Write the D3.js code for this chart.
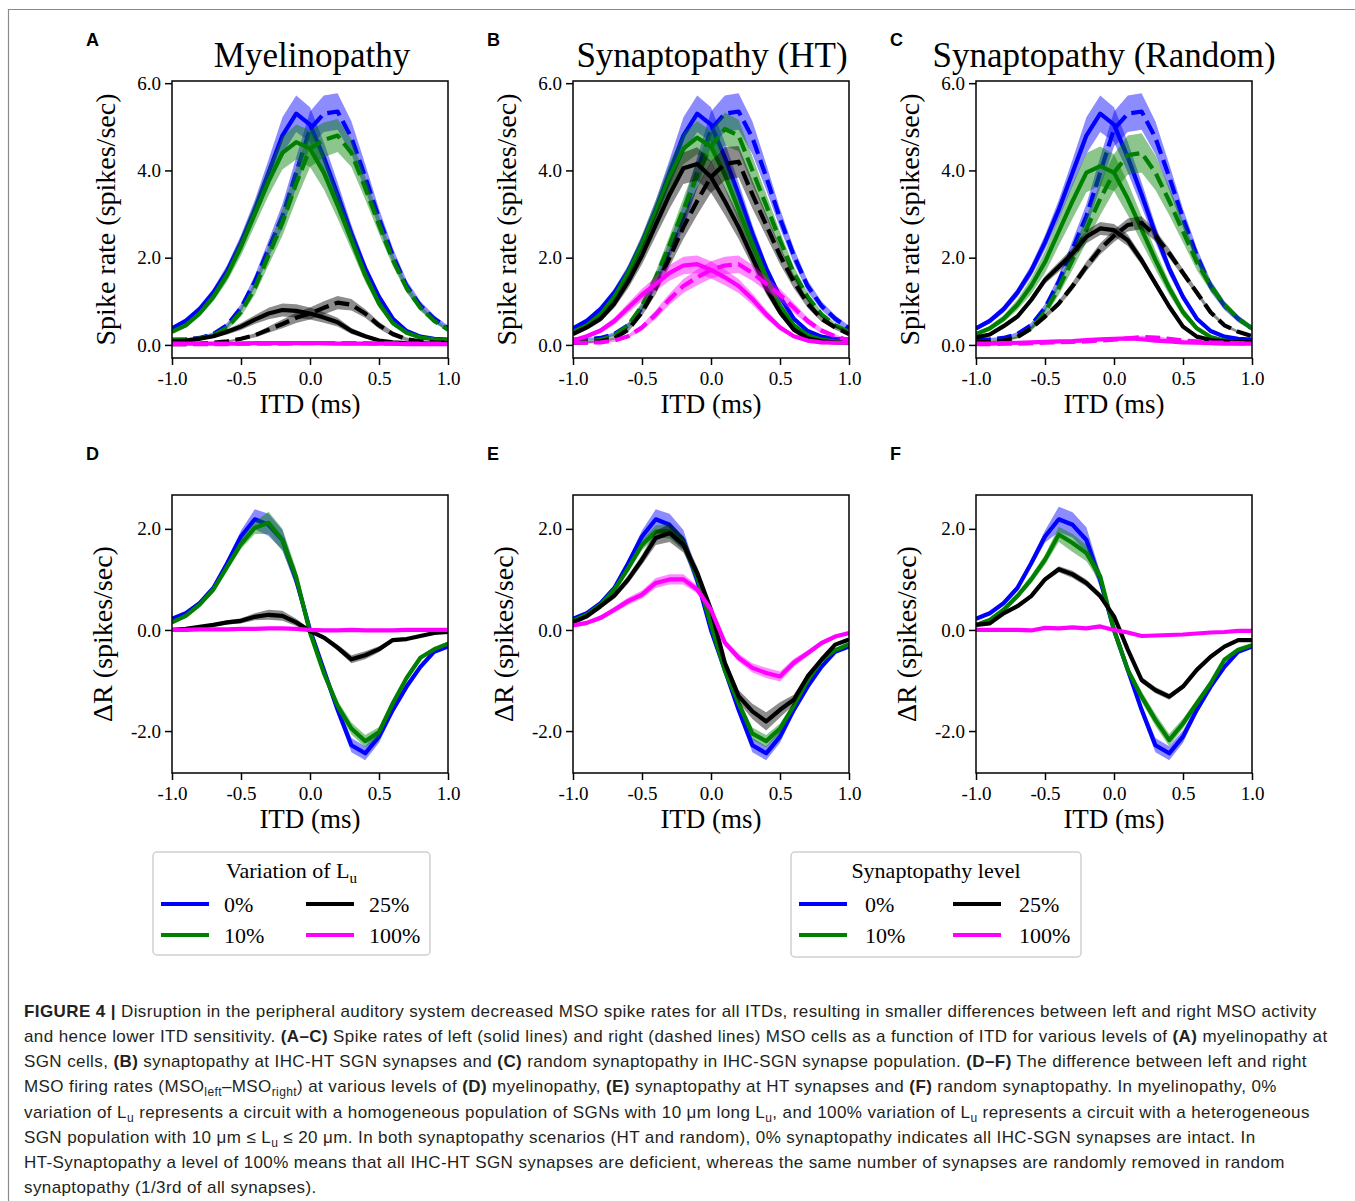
<!DOCTYPE html>
<html lang="en">
<meta charset="UTF-8">
<title>Figure 4 - MSO spike rates vs ITD</title>
<script src="https://d3js.org/d3.v7.min.js"></script>
<style>
body { margin: 0; background: #fff; }
.serif { font-family: "Liberation Serif", "Times New Roman", serif; }
.sans { font-family: "Liberation Sans", Arial, sans-serif; }
</style>
<body>
<svg id="fig" width="1355" height="1201"></svg>
<script>
// ITD values (ms)
const itd = [-1.0,-0.9,-0.8,-0.7,-0.6,-0.5,-0.4,-0.3,-0.2,-0.1,0.0,0.1,0.2,0.3,0.4,0.5,0.6,0.7,0.8,0.9,1.0];
const levels = ["0%", "10%", "25%", "100%"];
const xTicks = [-1.0, -0.5, 0.0, 0.5, 1.0];
const rateTicks = [0.0, 2.0, 4.0, 6.0];
const diffTicks = [-2.0, 0.0, 2.0];

// ---- A: myelinopathy, spike rates (order: 0%, 10%, 25%, 100%) ----
const myeLeft = [
  [0.38,0.55,0.82,1.2,1.7,2.35,3.1,3.95,4.8,5.3,5.05,4.3,3.45,2.55,1.75,1.1,0.6,0.32,0.19,0.14,0.12],
  [0.3,0.45,0.72,1.1,1.6,2.25,3.0,3.75,4.4,4.65,4.5,3.95,3.2,2.4,1.6,0.95,0.5,0.28,0.17,0.13,0.11],
  [0.08,0.1,0.14,0.2,0.3,0.42,0.58,0.72,0.8,0.78,0.72,0.63,0.52,0.32,0.2,0.1,0.06,0.04,0.03,0.03,0.03],
  [0.03,0.03,0.03,0.03,0.03,0.03,0.04,0.04,0.04,0.04,0.04,0.04,0.03,0.03,0.03,0.03,0.03,0.02,0.02,0.02,0.02]
];
const myeLeftSd = [
  [0.05,0.06,0.08,0.1,0.13,0.17,0.22,0.3,0.42,0.42,0.4,0.35,0.28,0.2,0.14,0.09,0.06,0.04,0.03,0.03,0.03],
  [0.04,0.05,0.07,0.1,0.14,0.2,0.26,0.32,0.38,0.4,0.42,0.38,0.3,0.22,0.15,0.1,0.06,0.04,0.03,0.03,0.03],
  [0.02,0.02,0.03,0.04,0.06,0.08,0.1,0.13,0.15,0.15,0.14,0.12,0.1,0.07,0.05,0.03,0.02,0.02,0.01,0.01,0.01],
  [0.02,0.02,0.02,0.02,0.02,0.02,0.02,0.02,0.02,0.02,0.02,0.02,0.02,0.02,0.02,0.02,0.02,0.02,0.02,0.02,0.02]
];
const myeRight = [
  [0.12,0.13,0.16,0.25,0.45,0.85,1.45,2.2,2.95,3.95,4.95,5.3,5.35,4.75,3.85,2.9,2.05,1.35,0.9,0.6,0.38],
  [0.11,0.12,0.15,0.22,0.4,0.75,1.3,2.05,2.8,3.7,4.5,4.7,4.8,4.4,3.6,2.75,1.95,1.3,0.85,0.55,0.35],
  [0.02,0.02,0.03,0.05,0.08,0.14,0.22,0.35,0.48,0.62,0.72,0.85,0.97,0.92,0.72,0.45,0.25,0.13,0.08,0.06,0.05],
  [0.02,0.02,0.02,0.02,0.02,0.03,0.03,0.03,0.03,0.04,0.04,0.04,0.04,0.04,0.04,0.03,0.03,0.03,0.03,0.03,0.03]
];
const myeRightSd = [
  [0.03,0.03,0.03,0.04,0.06,0.09,0.14,0.2,0.28,0.35,0.4,0.42,0.42,0.38,0.3,0.22,0.17,0.13,0.1,0.08,0.06],
  [0.03,0.03,0.03,0.04,0.06,0.1,0.15,0.22,0.3,0.38,0.42,0.4,0.38,0.32,0.26,0.2,0.14,0.1,0.07,0.05,0.04],
  [0.01,0.01,0.01,0.02,0.02,0.03,0.05,0.07,0.1,0.12,0.14,0.15,0.15,0.13,0.1,0.08,0.06,0.04,0.03,0.02,0.02],
  [0.02,0.02,0.02,0.02,0.02,0.02,0.02,0.02,0.02,0.02,0.02,0.02,0.02,0.02,0.02,0.02,0.02,0.02,0.02,0.02,0.02]
];

// ---- B: synaptopathy (HT), spike rates ----
const htLeft = [
  [0.38,0.55,0.82,1.2,1.7,2.35,3.1,3.95,4.8,5.3,5.05,4.3,3.45,2.55,1.75,1.1,0.6,0.32,0.19,0.14,0.12],
  [0.3,0.45,0.7,1.1,1.65,2.3,3.05,3.85,4.5,4.75,4.55,3.9,3.1,2.3,1.55,0.9,0.45,0.22,0.12,0.08,0.07],
  [0.25,0.4,0.6,0.95,1.45,2.05,2.75,3.45,4.05,4.15,3.85,3.3,2.7,2.0,1.3,0.75,0.35,0.15,0.08,0.06,0.05],
  [0.1,0.2,0.33,0.55,0.85,1.15,1.4,1.65,1.82,1.85,1.72,1.55,1.35,1.05,0.7,0.4,0.2,0.1,0.06,0.05,0.05]
];
const htLeftSd = [
  [0.05,0.06,0.08,0.1,0.13,0.17,0.22,0.3,0.42,0.42,0.4,0.35,0.28,0.2,0.14,0.09,0.06,0.04,0.03,0.03,0.03],
  [0.04,0.05,0.07,0.1,0.15,0.2,0.26,0.32,0.36,0.38,0.36,0.32,0.27,0.2,0.14,0.09,0.05,0.03,0.02,0.02,0.02],
  [0.04,0.05,0.07,0.1,0.15,0.2,0.26,0.32,0.36,0.38,0.36,0.32,0.27,0.2,0.14,0.09,0.05,0.03,0.02,0.02,0.02],
  [0.03,0.04,0.06,0.08,0.11,0.14,0.16,0.18,0.2,0.2,0.2,0.18,0.16,0.13,0.1,0.07,0.04,0.03,0.02,0.02,0.02]
];
const htRight = [
  [0.12,0.13,0.16,0.25,0.45,0.85,1.45,2.2,2.95,3.95,4.95,5.3,5.35,4.75,3.85,2.9,2.05,1.35,0.9,0.6,0.38],
  [0.07,0.08,0.12,0.22,0.45,0.9,1.55,2.3,3.1,3.9,4.55,4.95,4.8,4.0,3.2,2.4,1.65,1.1,0.7,0.45,0.3],
  [0.05,0.06,0.08,0.15,0.35,0.75,1.3,2.0,2.7,3.3,3.85,4.15,4.2,3.45,2.75,2.05,1.45,0.95,0.6,0.4,0.25],
  [0.05,0.05,0.06,0.1,0.2,0.4,0.7,1.05,1.35,1.55,1.72,1.82,1.85,1.65,1.4,1.15,0.85,0.55,0.33,0.2,0.1]
];
const htRightSd = [
  [0.03,0.03,0.03,0.04,0.06,0.09,0.14,0.2,0.28,0.35,0.4,0.42,0.42,0.38,0.3,0.22,0.17,0.13,0.1,0.08,0.06],
  [0.02,0.02,0.02,0.03,0.05,0.09,0.14,0.2,0.27,0.32,0.36,0.38,0.36,0.32,0.26,0.2,0.15,0.1,0.07,0.05,0.04],
  [0.02,0.02,0.02,0.03,0.05,0.09,0.14,0.2,0.27,0.32,0.36,0.38,0.36,0.32,0.26,0.2,0.15,0.1,0.07,0.05,0.04],
  [0.02,0.02,0.02,0.03,0.04,0.07,0.1,0.13,0.16,0.18,0.2,0.2,0.2,0.18,0.16,0.14,0.11,0.08,0.06,0.04,0.03]
];

// ---- C: synaptopathy (random), spike rates ----
const rndLeft = [
  [0.38,0.55,0.82,1.2,1.7,2.35,3.1,3.95,4.8,5.3,5.05,4.3,3.45,2.55,1.75,1.1,0.6,0.32,0.19,0.14,0.12],
  [0.25,0.38,0.6,0.92,1.35,1.9,2.6,3.3,3.95,4.1,3.95,3.35,2.65,1.95,1.3,0.75,0.38,0.18,0.1,0.07,0.06],
  [0.17,0.24,0.43,0.65,1.03,1.49,1.79,2.1,2.48,2.67,2.63,2.4,1.94,1.41,0.88,0.42,0.19,0.11,0.08,0.07,0.06],
  [0.03,0.03,0.04,0.05,0.06,0.07,0.08,0.09,0.11,0.13,0.14,0.15,0.13,0.1,0.08,0.06,0.05,0.04,0.03,0.03,0.03]
];
const rndLeftSd = [
  [0.05,0.06,0.08,0.1,0.13,0.17,0.22,0.3,0.42,0.42,0.4,0.35,0.28,0.2,0.14,0.09,0.06,0.04,0.03,0.03,0.03],
  [0.04,0.06,0.08,0.12,0.18,0.25,0.32,0.4,0.45,0.45,0.42,0.38,0.3,0.22,0.15,0.1,0.06,0.04,0.03,0.03,0.03],
  [0.02,0.03,0.04,0.05,0.07,0.09,0.11,0.13,0.15,0.15,0.14,0.13,0.11,0.09,0.07,0.05,0.03,0.02,0.02,0.02,0.02],
  [0.02,0.02,0.02,0.02,0.02,0.02,0.02,0.03,0.03,0.03,0.03,0.03,0.03,0.03,0.02,0.02,0.02,0.02,0.02,0.02,0.02]
];
const rndRight = [
  [0.12,0.13,0.16,0.25,0.45,0.85,1.45,2.2,2.95,3.95,4.95,5.3,5.35,4.75,3.85,2.9,2.05,1.35,0.9,0.6,0.38],
  [0.06,0.07,0.1,0.18,0.38,0.75,1.3,1.95,2.65,3.35,3.95,4.35,4.4,3.95,3.3,2.6,1.9,1.35,0.92,0.6,0.38],
  [0.06,0.07,0.1,0.18,0.38,0.65,0.95,1.35,1.8,2.2,2.5,2.75,2.8,2.5,2.1,1.65,1.2,0.75,0.45,0.3,0.2],
  [0.02,0.02,0.03,0.03,0.04,0.05,0.06,0.07,0.08,0.1,0.12,0.15,0.18,0.17,0.14,0.1,0.08,0.06,0.05,0.04,0.03]
];
const rndRightSd = [
  [0.03,0.03,0.03,0.04,0.06,0.09,0.14,0.2,0.28,0.35,0.4,0.42,0.42,0.38,0.3,0.22,0.17,0.13,0.1,0.08,0.06],
  [0.03,0.03,0.03,0.04,0.06,0.1,0.15,0.22,0.3,0.38,0.42,0.45,0.45,0.4,0.32,0.25,0.18,0.12,0.08,0.06,0.04],
  [0.02,0.02,0.02,0.02,0.03,0.05,0.07,0.09,0.11,0.13,0.14,0.15,0.15,0.13,0.11,0.09,0.07,0.05,0.04,0.03,0.02],
  [0.02,0.02,0.02,0.02,0.02,0.02,0.02,0.03,0.03,0.03,0.03,0.03,0.03,0.03,0.02,0.02,0.02,0.02,0.02,0.02,0.02]
];

// ---- D-F: left minus right MSO rate ----
const myeDiff = [
  [0.22,0.33,0.53,0.83,1.32,1.85,2.19,2.08,1.78,0.99,0.0,-0.79,-1.58,-2.28,-2.44,-2.11,-1.58,-1.12,-0.73,-0.43,-0.33],
  [0.15,0.28,0.5,0.8,1.25,1.7,2.02,2.12,1.78,1.05,-0.05,-0.85,-1.5,-1.95,-2.2,-2.02,-1.45,-0.95,-0.55,-0.38,-0.27],
  [0.0,0.02,0.06,0.1,0.15,0.18,0.26,0.3,0.28,0.15,-0.02,-0.15,-0.35,-0.58,-0.5,-0.38,-0.2,-0.18,-0.12,-0.06,-0.04],
  [0.0,0.0,0.01,0.01,0.01,0.02,0.02,0.03,0.03,0.02,0.0,-0.01,-0.01,0.0,-0.01,-0.01,-0.01,0.0,0.0,0.0,0.0]
];
const myeDiffSd = [
  [0.03,0.04,0.05,0.06,0.08,0.12,0.2,0.22,0.2,0.15,0.08,0.08,0.1,0.14,0.14,0.12,0.08,0.06,0.04,0.03,0.03],
  [0.03,0.04,0.05,0.06,0.08,0.1,0.12,0.22,0.22,0.15,0.08,0.08,0.1,0.12,0.12,0.1,0.07,0.05,0.04,0.03,0.03],
  [0.02,0.02,0.03,0.03,0.04,0.05,0.07,0.1,0.1,0.07,0.04,0.04,0.06,0.08,0.08,0.06,0.04,0.03,0.02,0.02,0.02],
  [0.01,0.01,0.01,0.01,0.01,0.01,0.01,0.01,0.01,0.01,0.01,0.01,0.01,0.01,0.01,0.01,0.01,0.01,0.01,0.01,0.01]
];
const htDiff = [
  [0.22,0.33,0.53,0.83,1.32,1.85,2.19,2.08,1.78,0.99,0.0,-0.79,-1.58,-2.28,-2.44,-2.11,-1.58,-1.12,-0.73,-0.43,-0.33],
  [0.18,0.3,0.5,0.8,1.22,1.68,1.95,1.95,1.72,1.05,0.1,-0.8,-1.45,-2.05,-2.2,-1.95,-1.5,-1.0,-0.6,-0.4,-0.28],
  [0.15,0.27,0.47,0.68,1.0,1.39,1.82,1.92,1.69,1.13,0.4,-0.65,-1.31,-1.61,-1.81,-1.58,-1.38,-0.92,-0.59,-0.29,-0.19],
  [0.09,0.14,0.24,0.4,0.57,0.7,0.93,1.0,1.0,0.8,0.4,-0.25,-0.55,-0.75,-0.85,-0.92,-0.65,-0.46,-0.26,-0.13,-0.06]
];
const htDiffSd = [
  [0.03,0.04,0.05,0.06,0.08,0.12,0.2,0.22,0.2,0.15,0.08,0.08,0.1,0.14,0.14,0.12,0.08,0.06,0.04,0.03,0.03],
  [0.03,0.04,0.05,0.06,0.08,0.1,0.12,0.14,0.14,0.12,0.08,0.08,0.1,0.12,0.12,0.1,0.07,0.05,0.04,0.03,0.03],
  [0.03,0.04,0.05,0.06,0.08,0.1,0.14,0.18,0.16,0.12,0.08,0.1,0.12,0.15,0.18,0.15,0.1,0.06,0.04,0.03,0.03],
  [0.03,0.04,0.05,0.06,0.07,0.08,0.1,0.1,0.1,0.08,0.06,0.07,0.08,0.09,0.1,0.1,0.08,0.06,0.05,0.04,0.03]
];
const rndDiff = [
  [0.22,0.33,0.53,0.83,1.32,1.85,2.19,2.08,1.78,0.99,0.0,-0.79,-1.58,-2.28,-2.44,-2.11,-1.58,-1.12,-0.73,-0.43,-0.33],
  [0.1,0.2,0.4,0.67,1.0,1.39,1.89,1.72,1.52,1.06,0.0,-0.79,-1.32,-1.78,-2.18,-1.85,-1.45,-1.06,-0.59,-0.39,-0.3],
  [0.1,0.13,0.33,0.47,0.67,1.0,1.2,1.1,0.93,0.67,0.27,-0.39,-0.99,-1.19,-1.32,-1.12,-0.79,-0.53,-0.33,-0.2,-0.2],
  [0.0,0.0,0.0,0.0,-0.01,0.04,0.03,0.05,0.03,0.07,0.0,-0.05,-0.12,-0.11,-0.1,-0.09,-0.07,-0.05,-0.04,-0.02,-0.02]
];
const rndDiffSd = [
  [0.03,0.04,0.05,0.06,0.08,0.12,0.25,0.25,0.25,0.15,0.08,0.08,0.1,0.14,0.14,0.12,0.08,0.06,0.04,0.03,0.03],
  [0.03,0.04,0.05,0.06,0.08,0.1,0.15,0.18,0.16,0.12,0.08,0.08,0.1,0.12,0.12,0.1,0.07,0.05,0.04,0.03,0.03],
  [0.02,0.02,0.03,0.03,0.04,0.05,0.06,0.07,0.07,0.06,0.05,0.05,0.06,0.06,0.06,0.05,0.04,0.03,0.02,0.02,0.02],
  [0.01,0.01,0.01,0.01,0.01,0.01,0.01,0.01,0.01,0.01,0.01,0.01,0.01,0.01,0.01,0.01,0.01,0.01,0.01,0.01,0.01]
];

// ---- styling ----
const levelColors = ["#0000ff", "#008000", "#000000", "#ff00ff"];
const serif = "Liberation Serif, Times New Roman, serif";
const fmt = v => v.toFixed(1);

const svg = d3.select("#fig");

// figure frame (top and left edges)
svg.append("line").attr("x1", 8).attr("y1", 9.5).attr("x2", 1355).attr("y2", 9.5)
  .attr("stroke", "#8a8a8a").attr("stroke-width", 1.2);
svg.append("line").attr("x1", 8.5).attr("y1", 9).attr("x2", 8.5).attr("y2", 1201)
  .attr("stroke", "#8a8a8a").attr("stroke-width", 1.2);

const W = 276;

const panels = [
  {letter: "A", left: 172, top: 81, h: 277, yDomain: [-0.3, 6.05], yTicks: rateTicks,
   title: "Myelinopathy", titleX: 312, ylabel: "Spike rate (spikes/sec)", yLabelOff: -57,
   sets: [[myeLeft, myeLeftSd, false], [myeRight, myeRightSd, true]]},
  {letter: "B", left: 573, top: 81, h: 277, yDomain: [-0.3, 6.05], yTicks: rateTicks,
   title: "Synaptopathy (HT)", titleX: 712, ylabel: "Spike rate (spikes/sec)", yLabelOff: -57,
   sets: [[htLeft, htLeftSd, false], [htRight, htRightSd, true]]},
  {letter: "C", left: 976, top: 81, h: 277, yDomain: [-0.3, 6.05], yTicks: rateTicks,
   title: "Synaptopathy (Random)", titleX: 1104, ylabel: "Spike rate (spikes/sec)", yLabelOff: -57,
   sets: [[rndLeft, rndLeftSd, false], [rndRight, rndRightSd, true]]},
  {letter: "D", left: 172, top: 495, h: 278, yDomain: [-2.83, 2.67], yTicks: diffTicks,
   ylabel: "\u0394R (spikes/sec)", yLabelOff: -60, sets: [[myeDiff, myeDiffSd, false]]},
  {letter: "E", left: 573, top: 495, h: 278, yDomain: [-2.83, 2.67], yTicks: diffTicks,
   ylabel: "\u0394R (spikes/sec)", yLabelOff: -60, sets: [[htDiff, htDiffSd, false]]},
  {letter: "F", left: 976, top: 495, h: 278, yDomain: [-2.83, 2.67], yTicks: diffTicks,
   ylabel: "\u0394R (spikes/sec)", yLabelOff: -60, sets: [[rndDiff, rndDiffSd, false]]}
];

panels.forEach(function(p) {
  const g = svg.append("g").attr("transform", "translate(" + p.left + "," + p.top + ")");
  const x = d3.scaleLinear().domain([-1, 1]).range([0, W]);
  const y = d3.scaleLinear().domain(p.yDomain).range([p.h, 0]);

  // clip to the axes box like matplotlib
  g.append("clipPath").attr("id", "clip" + p.letter)
    .append("rect").attr("width", W).attr("height", p.h);
  const plot = g.append("g").attr("clip-path", "url(#clip" + p.letter + ")");

  const band = d3.area()
    .x((d, i) => x(itd[i]))
    .y0(d => y(d[0] - d[1]))
    .y1(d => y(d[0] + d[1]));
  const line = d3.line()
    .x((d, i) => x(itd[i]))
    .y(d => y(d));

  // one level at a time: band then line, left (solid) then right (dashed)
  levels.forEach(function(lev, li) {
    p.sets.forEach(function(set) {
      const mean = set[0][li], sd = set[1][li];
      plot.append("path")
        .datum(mean.map((m, i) => [m, sd[i]]))
        .attr("d", band)
        .attr("fill", levelColors[li])
        .attr("fill-opacity", 0.45);
      plot.append("path")
        .datum(mean)
        .attr("d", line)
        .attr("fill", "none")
        .attr("stroke", levelColors[li])
        .attr("stroke-width", 4.2)
        .attr("stroke-linejoin", "round")
        .attr("stroke-dasharray", set[2] ? "14.8,6.4" : null);
    });
  });

  // axes
  const xAxis = g.append("g").attr("transform", "translate(0," + p.h + ")")
    .call(d3.axisBottom(x).tickValues(xTicks).tickSize(7).tickFormat(fmt));
  const yAxis = g.append("g")
    .call(d3.axisLeft(y).tickValues(p.yTicks).tickSize(7).tickPadding(4).tickFormat(fmt));
  [xAxis, yAxis].forEach(function(a) {
    a.attr("font-size", null).attr("font-family", null);
    a.select(".domain").remove();
    a.selectAll(".tick line").attr("stroke", "#000").attr("stroke-width", 1.5);
    a.selectAll(".tick text").attr("fill", "#000").attr("font-family", serif).attr("font-size", 19);
  });
  xAxis.selectAll(".tick text").attr("y", 27).attr("dy", null);

  g.append("rect").attr("width", W).attr("height", p.h)
    .attr("fill", "none").attr("stroke", "#000").attr("stroke-width", 1.5);

  // labels
  g.append("text").attr("x", W / 2).attr("y", p.h + 55)
    .attr("text-anchor", "middle").attr("font-family", serif).attr("font-size", 27)
    .text("ITD (ms)");
  g.append("text")
    .attr("transform", "translate(" + p.yLabelOff + "," + (p.h / 2) + ") rotate(-90)")
    .attr("text-anchor", "middle").attr("font-family", serif).attr("font-size", 28)
    .text(p.ylabel);
  if (p.title) {
    svg.append("text").attr("x", p.titleX).attr("y", 67)
      .attr("text-anchor", "middle").attr("font-family", serif).attr("font-size", 35)
      .text(p.title);
  }
  svg.append("text").attr("class", "sans")
    .attr("x", p.left - 86).attr("y", p.top - 35)
    .attr("font-size", 18).attr("font-weight", "bold")
    .text(p.letter);
});

// ---- legends ----
const legends = [
  {x: 153, y: 852, w: 277, h: 103, title: "Variation of L", sub: "u", cols: [8, 153], textOff: 63},
  {x: 791, y: 852, w: 290, h: 105, title: "Synaptopathy level", sub: null, cols: [8, 162], textOff: 66}
];
legends.forEach(function(l) {
  const g = svg.append("g").attr("transform", "translate(" + l.x + "," + l.y + ")");
  g.append("rect").attr("width", l.w).attr("height", l.h).attr("rx", 4)
    .attr("fill", "#fff").attr("stroke", "#cfcfcf").attr("stroke-width", 1.5);
  const t = g.append("text").attr("x", l.w / 2).attr("y", 26)
    .attr("text-anchor", "middle").attr("font-family", serif).attr("font-size", 22)
    .text(l.title);
  if (l.sub) t.append("tspan").attr("font-size", 15).attr("dy", 5).text(l.sub);
  levels.forEach(function(lev, i) {
    const cx = l.cols[Math.floor(i / 2)], cy = i % 2 === 0 ? 52 : 83;
    g.append("line").attr("x1", cx).attr("x2", cx + 48).attr("y1", cy).attr("y2", cy)
      .attr("stroke", levelColors[i]).attr("stroke-width", 4);
    g.append("text").attr("x", cx + l.textOff).attr("y", cy + 8)
      .attr("font-family", serif).attr("font-size", 22).text(lev);
  });
});

// ---- caption ----
const captionLines = [
  [["FIGURE 4 | ", "b"], ["Disruption in the peripheral auditory system decreased MSO spike rates for all ITDs, resulting in smaller differences between left and right MSO activity", ""]],
  [["and hence lower ITD sensitivity. ", ""], ["(A\u2013C)", "b"], [" Spike rates of left (solid lines) and right (dashed lines) MSO cells as a function of ITD for various levels of ", ""], ["(A)", "b"], [" myelinopathy at", ""]],
  [["SGN cells, ", ""], ["(B)", "b"], [" synaptopathy at IHC-HT SGN synapses and ", ""], ["(C)", "b"], [" random synaptopathy in IHC-SGN synapse population. ", ""], ["(D\u2013F)", "b"], [" The difference between left and right", ""]],
  [["MSO firing rates (MSO", ""], ["left", "sub"], ["\u2013MSO", ""], ["right", "sub"], [") at various levels of ", ""], ["(D)", "b"], [" myelinopathy, ", ""], ["(E)", "b"], [" synaptopathy at HT synapses and ", ""], ["(F)", "b"], [" random synaptopathy. In myelinopathy, 0%", ""]],
  [["variation of L", ""], ["u", "sub"], [" represents a circuit with a homogeneous population of SGNs with 10 \u03bcm long L", ""], ["u", "sub"], [", and 100% variation of L", ""], ["u", "sub"], [" represents a circuit with a heterogeneous", ""]],
  [["SGN population with 10 \u03bcm \u2264 L", ""], ["u", "sub"], [" \u2264 20 \u03bcm. In both synaptopathy scenarios (HT and random), 0% synaptopathy indicates all IHC-SGN synapses are intact. In", ""]],
  [["HT-Synaptopathy a level of 100% means that all IHC-HT SGN synapses are deficient, whereas the same number of synapses are randomly removed in random", ""]],
  [["synaptopathy (1/3rd of all synapses).", ""]]
];
const cap = svg.append("g").attr("class", "sans").attr("fill", "#231f20");
captionLines.forEach(function(segs, li) {
  const t = cap.append("text").attr("x", 24).attr("y", 1017 + li * 25.15)
    .attr("font-size", 17).attr("letter-spacing", 0.4);
  let shifted = false;
  segs.forEach(function(s) {
    const ts = t.append("tspan").text(s[0]);
    if (s[1] === "b") ts.attr("font-weight", "bold");
    if (s[1] === "sub") { ts.attr("font-size", 12).attr("dy", 4); shifted = true; }
    else if (shifted) { ts.attr("dy", -4); shifted = false; }
  });
});
</script>
</body>
</html>
